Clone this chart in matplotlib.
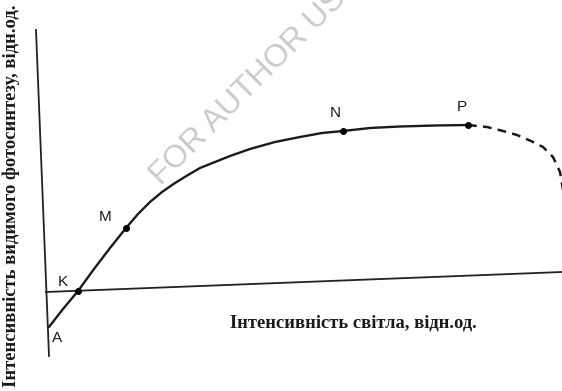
import matplotlib
matplotlib.use("Agg")
import matplotlib.pyplot as plt

# values, in picture pixels (x right, y down)
curve_x = [49, 63, 78, 94, 110, 126, 138, 150, 162, 175, 188, 200, 215, 230,
           250, 275, 300, 322, 343, 370, 400, 435, 468]
curve_y = [327, 309, 291, 269, 248, 228, 214, 202, 192, 183, 175, 168, 162,
           156, 149, 142, 137, 133, 131, 128, 126.5, 125.5, 125]
dash_x = [468, 487, 503, 517, 531, 543, 553, 560, 563]
dash_y = [125, 127, 131, 135, 141, 147, 157, 172, 190]

point_names = ["K", "M", "N", "P"]
point_x = [78, 126, 343, 468]
point_y = [291, 228, 131, 125]
name_x = [63, 105, 335, 462]
name_y = [282, 217, 113, 107]

y_axis_x = [36, 49]
y_axis_y = [30, 356]
x_axis_x = [46, 562]
x_axis_y = [292, 272]

xlabel = "Інтенсивність світла, відн.од."
ylabel = "Інтенсивність видимого фотосинтезу, відн.од."
watermark = "FOR AUTHOR USE ONLY"

fig = plt.figure(figsize=(5.62, 3.91), dpi=100)
ax = fig.add_axes([0, 0, 1, 1])
ax.set_xlim(0, 562)
ax.set_ylim(391, 0)
ax.axis("off")

# scan watermark, runs off the top edge like in the original
ax.text(161, 186, watermark, rotation=45, rotation_mode="anchor",
        ha="left", va="baseline", fontsize=23, color="#c9c9c9",
        family="Liberation Sans", clip_on=True)

ax.plot(y_axis_x, y_axis_y, color="#222222", lw=1.3)
ax.plot(x_axis_x, x_axis_y, color="#222222", lw=1.3)
ax.plot(curve_x, curve_y, color="#1a1a1a", lw=1.7, solid_capstyle="round",
        solid_joinstyle="round")
ax.plot(dash_x, dash_y, color="#1a1a1a", lw=1.8, linestyle=(0, (3.5, 2.5)))
ax.plot(point_x, point_y, "o", color="black", ms=4)

for name, x, y in zip(point_names, name_x, name_y):
    ax.text(x, y, name, ha="center", va="center", fontsize=11,
            family="Liberation Sans", color="#1a1a1a")
ax.text(57, 338, "A", ha="center", va="center", fontsize=11,
        family="Liberation Sans", color="#1a1a1a")

ax.text(230, 323, xlabel, ha="left", va="center", fontsize=13.3,
        family="Liberation Serif", weight="bold", color="#1a1a1a")
ax.text(11, 196, ylabel, rotation=90, ha="center", va="center",
        fontsize=13.4, family="Liberation Serif", weight="bold", color="#1a1a1a")

fig.savefig("out.png", dpi=100)
